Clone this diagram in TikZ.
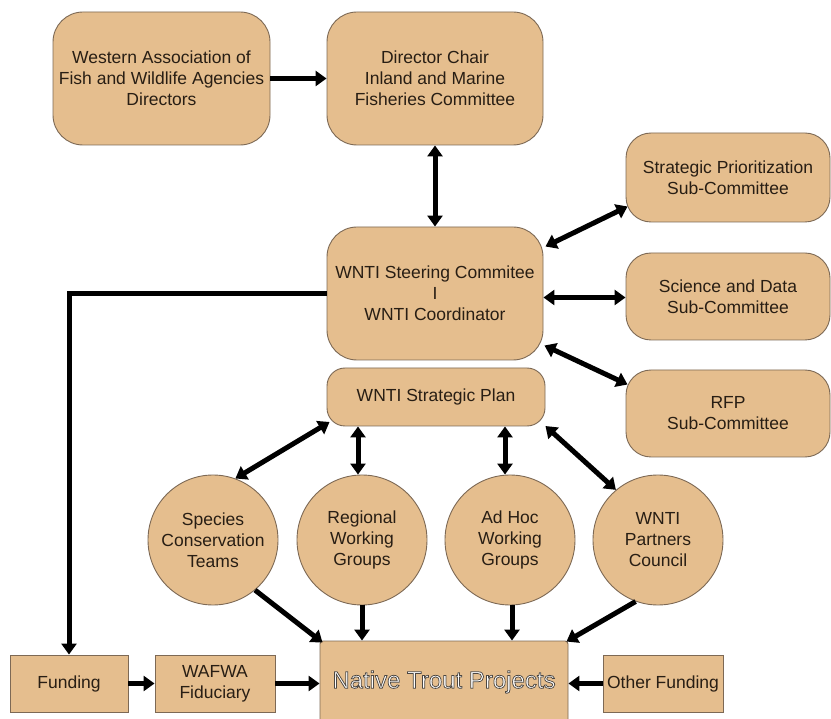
\documentclass[tikz,border=0pt]{standalone}
\usepackage{fontspec}
\setmainfont{Liberation Sans}
\usetikzlibrary{arrows.meta,calc}
\definecolor{tan}{RGB}{229,190,142}
\definecolor{edge}{RGB}{125,105,85}
\definecolor{txt}{RGB}{40,30,20}
\newcommand{\outlinetext}[1]{\textcolor{white}{\special{pdf:literal direct 0.75 w 2 Tr 0.3 0.28 0.26 RG}#1\special{pdf:literal direct 0 Tr}}}
\begin{document}
\begin{tikzpicture}[x=1pt,y=-1pt,
  box/.style={draw=edge,fill=tan,line width=0.9pt,text=txt,align=center,
    font=\fontsize{17.5}{21}\selectfont,inner sep=1pt},
  rbox/.style={box,rounded corners=30pt},
  circ/.style={box,circle,minimum size=130pt},
  arr/.style={line width=5pt,-{Triangle[length=11pt,width=15pt]}},
  dbl/.style={line width=5pt,{Triangle[length=11pt,width=15pt]}-{Triangle[length=11pt,width=15pt]}}]
\useasboundingbox (0,0) rectangle (831,719);
\fill[white] (0,0) rectangle (831,719);
% top row
\node[rbox,minimum width=217pt,minimum height=133pt] (wafwa) at (161.5,78.5)
  {Western Association of\\Fish and Wildlife Agencies\\Directors};
\node[rbox,minimum width=216pt,minimum height=133pt] (chair) at (435,78.5)
  {Director Chair\\Inland and Marine\\Fisheries Committee};
% steering
\node[rbox,minimum width=216pt,minimum height=133pt] (steer) at (435,293.5)
  {WNTI Steering Commitee\\I\\WNTI Coordinator};
% sub-committees
\node[rbox,rounded corners=25pt,minimum width=204pt,minimum height=89pt] (prio) at (728,177.5)
  {Strategic Prioritization\\Sub-Committee};
\node[rbox,rounded corners=25pt,minimum width=204pt,minimum height=87pt] (sci) at (728,296.5)
  {Science and Data\\Sub-Committee};
\node[rbox,rounded corners=25pt,minimum width=204pt,minimum height=87pt] (rfp) at (728,413.5)
  {RFP\\Sub-Committee};
% strategic plan
\node[rbox,rounded corners=18pt,minimum width=218pt,minimum height=58pt] (plan) at (436,397)
  {WNTI Strategic Plan};
% circles
\node[circ] (spec) at (213,540) {Species\\Conservation\\Teams};
\node[circ] (reg) at (362,540) {Regional\\Working\\Groups};
\node[circ] (adhoc) at (510,540) {Ad Hoc\\Working\\Groups};
\node[circ] (part) at (658,540) {WNTI\\Partners\\Council};
% bottom row
\node[box,rounded corners=3pt,minimum width=248pt,minimum height=82pt] (native) at (444,682)
  {\fontsize{24}{27}\selectfont\outlinetext{Native Trout Projects}};
\node[box,minimum width=118pt,minimum height=57pt] (fund) at (69,683.5) {Funding};
\node[box,minimum width=120pt,minimum height=57pt] (fid) at (215,683.5) {WAFWA\\Fiduciary};
\node[box,minimum width=120pt,minimum height=57pt,inner sep=0pt] (other) at (663,683.5) {Other Funding};
% connectors
\draw[arr] (wafwa.east) -- (chair.west);
\draw[dbl] (chair.south) -- (steer.north);
\draw[dbl] ([yshift=47pt,xshift=2pt]steer.east) -- ([yshift=-29pt,xshift=2pt]prio.west);
\draw[dbl] ([yshift=-4pt]steer.east) -- ([yshift=-1pt]sci.west);
\draw[dbl] ([yshift=-52pt,xshift=1pt]steer.east) -- ([yshift=29pt,xshift=2pt]rfp.west);
\draw[arr] (steer.west) -| (fund.north);
\draw[dbl] ([yshift=-25pt,xshift=3pt]plan.west) -- (spec.70);
\draw[dbl] ([xshift=-78pt]plan.south) -- ([xshift=-4pt]reg.north);
\draw[dbl] ([xshift=69pt]plan.south) -- ([xshift=-5pt]adhoc.north);
\draw[dbl] ([yshift=-29pt]plan.east) -- (part.130);
\draw[arr] (spec.310) -- ([xshift=3pt,yshift=-2pt]native.north west);
\draw[arr] (reg.south) -- (reg.south |- native.north);
\draw[arr] ([xshift=2pt]adhoc.south) -- ([xshift=2pt]adhoc.south |- native.north);
\draw[arr] (part.250) -- ([xshift=-2pt,yshift=-1pt]native.north east);
\draw[arr] (fund.east) -- (fid.west);
\draw[arr] (fid.east) -- (fid.east -| native.west);
\draw[arr] (other.west) -- (other.west -| native.east);
\end{tikzpicture}
\end{document}
